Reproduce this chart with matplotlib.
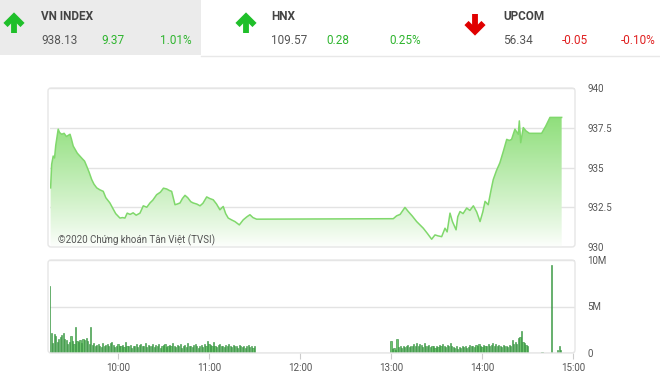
import numpy as np
import matplotlib
matplotlib.use("Agg")
import matplotlib.pyplot as plt
from matplotlib.patches import Rectangle, FancyBboxPatch, Polygon

# ---------------- data ----------------
# header
idx_names = ["VN INDEX", "HNX", "UPCOM"]
idx_values = ["938.13", "109.57", "56.34"]
idx_changes = ["9.37", "0.28", "-0.05"]
idx_pcts = ["1.01%", "0.25%", "-0.10%"]
idx_up = [True, True, False]

# price line: minutes after 9:00 and index value
price_min = [15.6, 16.3, 17.3, 18.2, 19.0, 20.6, 21.5, 22.9, 24.5, 26.0, 28.4, 29.3, 30.5,
             32.0, 33.2, 34.9, 36.5, 38.0, 39.4, 41.0, 42.7, 44.2, 46.0, 48.0, 50.3,
             52.0, 54.7, 56.5, 58.5, 61.3, 63.0, 64.6, 66.1, 68.0, 70.0, 72.0, 74.5,
             76.7, 79.0, 81.1, 83.0, 85.5, 88.0, 90.0, 92.1, 94.0, 95.4, 97.6, 99.0,
             100.9, 102.5, 104.2, 106.0, 108.0, 109.6, 112.0, 114.1, 116.0, 118.5, 120.5,
             122.8, 125.0, 127.2, 129.4, 131.0, 132.7, 135.0, 137.1, 138.5, 140.0, 142.6,
             145.0, 147.0, 149.0, 151.4, 241.5, 243.7, 246.0, 249.2, 251.4, 254.0, 256.9,
             259.0, 261.3, 264.0, 266.8, 269.0, 271.0, 273.4, 275.6, 277.0, 278.9, 280.5,
             282.9, 284.0, 285.5, 287.5, 289.9, 292.0, 294.3, 296.5, 298.7, 300.5, 302.0,
             304.1, 306.0, 307.4, 309.5, 311.8, 314.0, 316.3, 318.0, 319.5, 321.7, 323.9,
             324.6, 325.5, 327.2, 329.0, 331.2, 339.3, 342.0, 344.8, 352.5]
price_val = [933.72, 935.20, 935.72, 935.60, 936.40, 937.41, 937.20, 937.09, 937.15, 936.95, 937.09, 936.80, 936.35,
             936.10, 935.90, 935.72, 935.55, 935.40, 935.08, 934.70, 934.24, 933.95, 933.72, 933.60, 933.50,
             933.10, 932.77, 932.45, 932.10, 931.82, 931.85, 931.82, 932.13, 932.05, 932.15, 932.00, 932.13,
             932.59, 932.50, 932.77, 932.95, 933.29, 933.45, 933.70, 933.65, 933.55, 933.50, 932.66, 932.70,
             932.77, 933.05, 933.25, 933.10, 932.85, 932.77, 932.70, 932.59, 932.75, 933.15, 933.05,
             932.97, 932.70, 932.34, 932.55, 932.10, 931.82, 931.70, 931.60, 931.50, 931.39, 931.71,
             931.90, 932.03, 931.85, 931.75, 931.78, 931.96, 932.05, 932.49, 932.23, 931.95, 931.60,
             931.40, 931.18, 930.85, 930.49, 930.76, 930.70, 930.65, 931.18, 930.95, 932.13, 931.60,
             931.08, 931.90, 932.23, 932.10, 932.45, 932.30, 932.59, 932.20, 931.60, 932.20, 932.87,
             932.66, 933.60, 934.24, 934.80, 935.30, 936.00, 936.77, 936.70, 936.77, 937.41, 937.09,
             937.93, 936.56, 937.51, 937.30, 937.15, 937.15, 937.60, 938.15, 938.15]

# volume bars (millions), one per minute
vol_am_start = 15
vol_am = [7.2, 2.1, 1.1, 2.0, 1.8, 1.2, 1.5, 1.7, 1.9, 2.1, 1.5, 1.4, 1.0, 1.2, 1.8,
          1.3, 1.0, 2.8, 1.3, 1.2, 1.4, 1.1, 1.5, 1.4, 1.6, 1.3, 1.0, 2.8, 0.9, 1.1,
          0.7, 0.9, 1.0, 0.8, 0.6, 1.1, 0.7, 0.9, 1.0, 0.8, 1.1, 1.2, 0.9, 0.6, 0.8,
          1.0, 0.7, 0.8, 0.9, 0.6, 1.2, 0.8, 0.7, 0.9, 0.5, 0.7, 0.8, 1.0, 0.6, 0.9,
          1.0, 0.7, 0.8, 1.1, 0.6, 0.9, 0.8, 0.7, 1.0, 0.6, 0.9, 0.8, 1.0, 0.5, 0.7,
          0.9, 1.0, 0.6, 0.8, 0.9, 0.7, 1.1, 0.8, 0.6, 0.9, 0.7, 1.0, 0.5, 0.8, 0.9,
          0.6, 1.1, 0.7, 0.8, 0.6, 0.9, 1.0, 0.7, 0.5, 0.8, 0.9, 0.6, 1.0, 0.8, 1.3,
          1.0, 0.9, 0.7, 1.2, 0.8, 0.6, 0.9, 1.0, 0.7, 0.8, 0.6, 0.9, 0.7, 1.0, 0.8,
          0.6, 0.9, 0.7, 0.8, 0.5, 0.9, 0.7, 0.6, 0.8, 0.5, 0.7, 0.9, 0.6, 0.8, 0.5, 0.7]
vol_pm_start = 240
vol_pm = [1.3, 0.4, 0.5, 0.3, 1.5, 0.6, 0.7, 0.5, 0.8, 0.6, 0.7, 0.9, 0.6, 0.8, 0.7,
          1.0, 0.8, 1.1, 0.7, 1.0, 0.9, 0.6, 1.1, 0.8, 0.7, 0.9, 0.6, 0.8, 0.7, 0.5,
          0.8, 0.6, 0.9, 0.7, 1.0, 0.8, 0.6, 0.9, 0.7, 1.1, 0.8, 0.6, 0.5, 0.7, 0.4,
          0.6, 0.5, 0.7, 0.6, 0.8, 0.5, 0.6, 0.9, 0.7, 0.8, 0.6, 0.9, 0.7, 1.0, 0.8,
          0.6, 0.9, 0.7, 0.8, 1.0, 0.7, 0.9, 1.1, 0.8, 1.0, 0.7, 0.9, 0.8, 0.6, 0.9,
          0.7, 0.8, 0.6, 0.9, 0.7, 1.4, 1.0, 1.2, 1.0, 1.6, 1.7, 2.4, 1.2, 1.1, 0.9, 0.8]
vol_late_min = [339.5, 345.9, 349.8, 351.0, 352.0]
vol_late = [0.1, 9.5, 0.3, 0.8, 0.3]

price_ticks = [930, 932.5, 935, 937.5, 940]
price_tick_labels = ["930", "932.5", "935", "937.5", "940"]
vol_ticks = [0, 5, 10]
vol_tick_labels = ["0", "5M", "10M"]
time_ticks = [60, 120, 180, 240, 300, 360]
time_labels = ["10:00", "11:00", "12:00", "13:00", "14:00", "15:00"]
watermark = "©2020 Chứng khoán Tân Việt (TVSI)"

# ---------------- figure ----------------
W, H = 660, 383
fig = plt.figure(figsize=(W / 100, H / 100), dpi=100)
fig.patch.set_facecolor("white")

def fx(px):
    return px / W

def fy(py):
    return 1 - py / H

FONT = ["Roboto", "DejaVu Sans"]
NARROW = ["Liberation Sans Narrow", "Roboto", "DejaVu Sans"]
GREEN_T = "#2fb52f"
RED_T = "#e02020"

# panel axes
GRID = "#e3e3e3"
XL = (15.2, 361.3)
L, R = 50, 575
ax = fig.add_axes([fx(L), fy(247), fx(R - L), (247 - 88) / H])
vax = fig.add_axes([fx(L), fy(353), fx(R - L), (353 - 260) / H])

# overlay axes in pixel coords (header, watermark, frames)
hax = fig.add_axes([0, 0, 1, 1])
hax.set_zorder(5)
hax.set_facecolor("none")
hax.set_xlim(0, W)
hax.set_ylim(H, 0)
hax.axis("off")
hax.add_patch(Rectangle((0, 0), 201, 55, facecolor="#ebebeb", edgecolor="none"))
hax.plot([201, W], [55.5, 55.5], color="#e8e8e8", lw=1)

arrow_x = [14, 246, 475]
name_x = [41, 271, 503]
val_x = [41, 271, 503]
chg_x = [101, 326, 562]
pct_x = [160, 389, 621]
for i in range(3):
    cx = arrow_x[i]
    col = "#1fbf2a" if idx_up[i] else "#e00000"
    if idx_up[i]:
        hax.plot([cx, cx], [17, 33], color=col, lw=4.2, solid_capstyle="butt")
        hax.plot([cx - 8.5, cx, cx + 8.5], [25, 16.5, 25], color=col, lw=4.2,
                 solid_joinstyle="miter", solid_capstyle="butt")
    else:
        hax.plot([cx, cx], [14, 31], color=col, lw=4.2, solid_capstyle="butt")
        hax.plot([cx - 8.5, cx, cx + 8.5], [23, 31.5, 23], color=col, lw=4.2,
                 solid_joinstyle="miter", solid_capstyle="butt")
    chg_col = GREEN_T if idx_up[i] else RED_T
    hax.text(name_x[i], 16, idx_names[i], fontsize=8.5, fontweight="bold", color="#444444",
             family=NARROW, va="center", ha="left")
    hax.text(val_x[i], 41, idx_values[i], fontsize=8.5, color="#555555",
             family=NARROW, va="center", ha="left")
    hax.text(chg_x[i], 41, idx_changes[i], fontsize=8.5, color=chg_col,
             family=NARROW, va="center", ha="left")
    hax.text(pct_x[i], 41, idx_pcts[i], fontsize=8.5, color=chg_col,
             family=NARROW, va="center", ha="left")

for a in (ax, vax):
    a.set_facecolor("none")
    for s in a.spines.values():
        s.set_visible(False)
    a.set_xlim(*XL)

# price chart
ax.set_ylim(930, 940)
pm = np.array(price_min)
pv = np.array(price_val)
poly_x = np.concatenate([[pm[0]], pm, [pm[-1]]])
poly_y = np.concatenate([[930], pv, [930]])
poly = Polygon(np.column_stack([poly_x, poly_y]), closed=True, facecolor="none",
               edgecolor="none", transform=ax.transData)
ax.add_patch(poly)
grad = np.linspace(0, 1, 256).reshape(-1, 1)
top_c = np.array([0.55, 0.87, 0.47])
bot_c = np.array([1.0, 1.0, 1.0])
w = grad ** 0.9
img = top_c * w + bot_c * (1 - w)
img = np.repeat(img[:, None, :], 2, axis=1)
im = ax.imshow(img, extent=[XL[0], XL[1], 929.9, 938.4], origin="lower",
               aspect="auto", zorder=1, interpolation="bilinear")
im.set_clip_path(poly)
ax.plot(pm, pv, color="#80d86c", lw=1.1, zorder=3)

ax.set_yticks(price_ticks)
ax.yaxis.grid(True, color=GRID, lw=1)
ax.set_axisbelow(True)
ax.tick_params(axis="y", length=0, labelleft=False, labelright=True, pad=9,
               labelsize=7, labelcolor="#555555")
ax.set_yticklabels(price_tick_labels, family=FONT)
ax.set_xticks([])
hax.text(58, 240, watermark, fontsize=7, color="#555555", family=FONT,
         va="center", ha="left")

# volume chart
vax.set_ylim(0, 10)
am_x = np.arange(vol_am_start, vol_am_start + len(vol_am))
pm_x = np.arange(vol_pm_start, vol_pm_start + len(vol_pm))
BAR_F = "#6cc46c"
BAR_E = "#2e8b3a"
for xs, ys in ((am_x, vol_am), (pm_x, vol_pm), (vol_late_min, vol_late)):
    vax.bar(xs, ys, width=0.75, color=BAR_F, edgecolor=BAR_E, lw=0.4, zorder=3)
vax.set_yticks(vol_ticks)
vax.yaxis.grid(True, color=GRID, lw=1)
vax.set_axisbelow(True)
vax.tick_params(axis="y", length=0, labelleft=False, labelright=True, pad=9,
                labelsize=7, labelcolor="#555555")
vax.set_yticklabels(vol_tick_labels, family=FONT)
vax.axhline(0, color="#cfcfcf", lw=1, zorder=2)
vax.set_xticks(time_ticks)
vax.set_xticklabels(time_labels, family=FONT)
vax.tick_params(axis="x", length=4, color="#cccccc", labelsize=7,
                labelcolor="#555555", pad=3)

# rounded frame borders
for (t, b) in ((88, 247), (260, 353)):
    hax.add_patch(FancyBboxPatch((L - 2, t), R - L + 2, b - t,
                                 boxstyle="round,pad=0,rounding_size=3",
                                 facecolor="none", edgecolor="#e6e6e6", lw=1,
                                 clip_on=False))

fig.savefig("out.png", dpi=100, facecolor="white")
